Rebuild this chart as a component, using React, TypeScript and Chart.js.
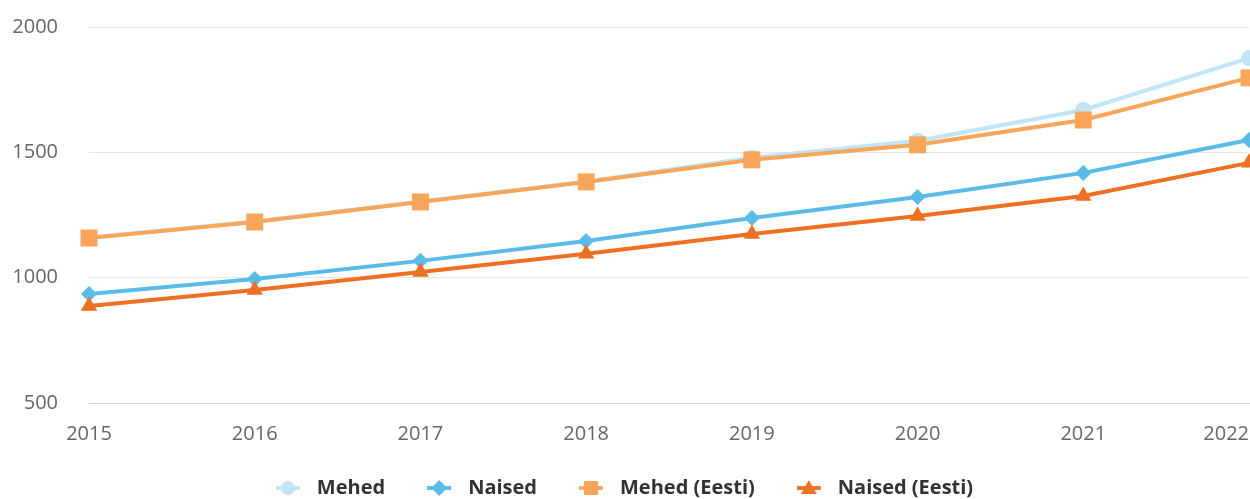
import React, { useEffect, useRef } from "react";
import { Chart, registerables } from "chart.js";

Chart.register(...registerables);

const years = ["2015", "2016", "2017", "2018", "2019", "2020", "2021", "2022"];
const mehed = [1160, 1224, 1304, 1384, 1478, 1546, 1669, 1876];
const naised = [935, 995, 1067, 1146, 1238, 1322, 1418, 1549];
const mehedEesti = [1158, 1222, 1302, 1382, 1470, 1530, 1629, 1797];
const naisedEesti = [887, 951, 1023, 1095, 1174, 1246, 1326, 1458];
const yTicks = [500, 1000, 1500, 2000];

const C_MEHED = "#bfe5f6";
const C_NAISED = "#5bbbe8";
const C_MEHED_E = "#f9a65a";
const C_NAISED_E = "#ee7023";

const FONT = '"Open Sans", "Noto Sans", sans-serif';

function makeIcon(color: string, style: string): HTMLCanvasElement {
  const c = document.createElement("canvas");
  c.width = 31;
  c.height = 22;
  const ctx = c.getContext("2d")!;
  const cy = 11;
  const cx = 12;
  ctx.strokeStyle = color;
  ctx.lineWidth = 3.8;
  ctx.beginPath();
  ctx.moveTo(0, cy);
  ctx.lineTo(24, cy);
  ctx.stroke();
  ctx.fillStyle = color;
  ctx.beginPath();
  if (style === "circle") {
    ctx.arc(cx, cy, 7, 0, Math.PI * 2);
  } else if (style === "diamond") {
    ctx.moveTo(cx, cy - 8);
    ctx.lineTo(cx + 8, cy);
    ctx.lineTo(cx, cy + 8);
    ctx.lineTo(cx - 8, cy);
    ctx.closePath();
  } else if (style === "square") {
    ctx.rect(cx - 7, cy - 7, 14, 14);
  } else {
    ctx.moveTo(cx, cy - 8);
    ctx.lineTo(cx + 8, cy + 6);
    ctx.lineTo(cx - 8, cy + 6);
    ctx.closePath();
  }
  ctx.fill();
  return c;
}

const layoutTweaks = {
  id: "layoutTweaks",
  afterLayout(chart: any) {
    const scale = chart.scales.x;
    if (scale) {
      const items = scale.getLabelItems(chart.chartArea);
      if (items && items.length) {
        items[items.length - 1].options.textAlign = "right";
      }
    }
  },
  beforeDraw(chart: any) {
    const lg = chart.legend;
    if (lg) {
      lg.top = 436;
      lg.bottom = chart.height + 60;
    }
  },
};

export default function App() {
  const ref = useRef<HTMLCanvasElement | null>(null);

  useEffect(() => {
    if (!ref.current) return;
    Chart.defaults.font.family = FONT;
    const icons = [
      { text: "Mehed", img: makeIcon(C_MEHED, "circle") },
      { text: "Naised", img: makeIcon(C_NAISED, "diamond") },
      { text: "Mehed (Eesti)", img: makeIcon(C_MEHED_E, "square") },
      { text: "Naised (Eesti)", img: makeIcon(C_NAISED_E, "triangle") },
    ];
    const common = {
      borderWidth: 4,
      pointBorderWidth: 0,
      pointHoverRadius: 8,
      tension: 0,
      clip: false as any,
    };
    const chart = new Chart(ref.current, {
      type: "line",
      data: {
        labels: years,
        datasets: [
          {
            label: "Mehed",
            data: mehed,
            borderColor: C_MEHED,
            backgroundColor: C_MEHED,
            pointStyle: "circle",
            pointRadius: 8,
            order: 3,
            ...common,
          },
          {
            label: "Naised",
            data: naised,
            borderColor: C_NAISED,
            backgroundColor: C_NAISED,
            pointStyle: "rectRot",
            pointRadius: 8,
            order: 2,
            ...common,
          },
          {
            label: "Mehed (Eesti)",
            data: mehedEesti,
            borderColor: C_MEHED_E,
            backgroundColor: C_MEHED_E,
            pointStyle: "rect",
            pointRadius: 12,
            order: 1,
            ...common,
          },
          {
            label: "Naised (Eesti)",
            data: naisedEesti,
            borderColor: C_NAISED_E,
            backgroundColor: C_NAISED_E,
            pointStyle: "triangle",
            pointRadius: 9.5,
            order: 0,
            ...common,
          },
        ],
      },
      options: {
        animation: false,
        responsive: true,
        maintainAspectRatio: false,
        layout: { autoPadding: false, padding: { top: 27, right: 1, left: 0, bottom: 0 } },
        plugins: {
          tooltip: { enabled: false },
          legend: {
            position: "bottom",
            maxHeight: 51,
            labels: {
              usePointStyle: true,
              pointStyleWidth: 31,
              padding: 42,
              color: "#333333",
              font: { size: 20, weight: "bold", family: FONT },
              generateLabels: () =>
                icons.map((ic, i) => ({
                  text: ic.text,
                  pointStyle: ic.img as any,
                  fillStyle: "transparent",
                  strokeStyle: "transparent",
                  lineWidth: 0,
                  hidden: false,
                  datasetIndex: i,
                  fontColor: "#333333",
                })),
            },
          } as any,
        },
        scales: {
          x: {
            type: "category",
            offset: false,
            grid: { display: false, drawTicks: false },
            border: { display: true, color: "#ccd6eb", width: 1 },
            ticks: {
              color: "#666666",
              font: { size: 20, family: FONT },
              padding: 19,
              maxRotation: 0,
              autoSkip: false,
            },
            afterFit: (scale: any) => {
              const lh = scale.chart.legend ? scale.chart.legend.height : 0;
              scale.height = scale.chart.height - lh - 403;
              scale.paddingLeft = 0;
              scale.paddingRight = 0;
            },
          },
          y: {
            min: 500,
            max: 2000,
            afterBuildTicks: (scale: any) => {
              scale.ticks = yTicks.map((v) => ({ value: v }));
            },
            grid: { color: "#e6e6e6", lineWidth: 1, drawTicks: false },
            border: { display: false },
            ticks: {
              color: "#666666",
              font: { size: 20, family: FONT },
              padding: 31,
              callback: (v: any) => String(v),
            },
            afterFit: (scale: any) => {
              scale.width = 89;
              scale.paddingTop = 0;
              scale.paddingBottom = 0;
            },
          },
        },
      },
      plugins: [layoutTweaks],
    });
    return () => chart.destroy();
  }, []);

  return (
    <div style={{ position: "fixed", left: 0, top: 0, width: 1250, height: 499 }}>
      <canvas ref={ref} />
    </div>
  );
}
